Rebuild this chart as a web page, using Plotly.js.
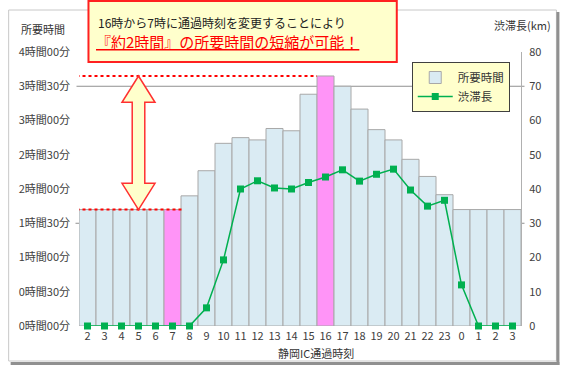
<!DOCTYPE html>
<html><head><meta charset="utf-8">
<script src="https://cdn.plot.ly/plotly-3.0.1.min.js"></script>
<style>html,body{margin:0;padding:0;background:#fff}#c{width:565px;height:372px}</style>
</head><body><div id="c"></div>
<script>
// ---- data ----
const hours = ["2","3","4","5","6","7","8","9","10","11","12","13","14","15","16","17","18","19","20","21","22","23","0","1","2","3"];
const travelMinutes = [102,102,102,102,102,102,114,136,160,165,163,173,171,203,219,210,190,172,163,146,131,115,102,102,102,102];
const jamKm = [0,0,0,0,0,0,0,5.3,19.3,40,42.4,40.3,40,41.9,43.5,45.6,42.3,44.3,45.8,39.7,35,36.7,12,0,0,0];
const highlightHours = [5, 14]; // indices of 7時 and 16時
const yTickVals = [0,30,60,90,120,150,180,210,240];
const yTickText = ["0時間00分","0時間30分","1時間00分","1時間30分","2時間00分","2時間30分","3時間00分","3時間30分","4時間00分"];
const y2TickVals = [0,10,20,30,40,50,60,70,80];

// ---- layout helpers (pixel -> paper) ----
const L = 78.5, R = 521.5, T = 52, B = 326;
const px = v => (v - L) / (R - L);
const py = v => (B - v) / (B - T);

const idx = hours.map((h, i) => i);
const barColors = idx.map(i => highlightHours.includes(i) ? '#FF94F7' : '#DAEBF3');

const font = "'Noto Sans CJK JP', 'Noto Sans', sans-serif";
const tickFont = {family: font, size: 11, color: '#404040'};

const lowVal = travelMinutes[highlightHours[0]];
const highVal = travelMinutes[highlightHours[1]];
const ax = 3, hw = 0.97, sw = 0.37, hh = 23;
const arrowPath = `M ${ax},${highVal} L ${ax+hw},${highVal-hh} L ${ax+sw},${highVal-hh} L ${ax+sw},${lowVal+hh} L ${ax+hw},${lowVal+hh} L ${ax},${lowVal} L ${ax-hw},${lowVal+hh} L ${ax-sw},${lowVal+hh} L ${ax-sw},${highVal-hh} L ${ax-hw},${highVal-hh} Z`;

const traces = [
  {type: 'bar', x: idx, y: travelMinutes, name: '所要時間', width: 1,
   marker: {color: barColors, line: {color: '#A8A8A8', width: 1}}, hoverinfo: 'skip'},
  {type: 'scatter', mode: 'lines+markers', x: idx, y: jamKm, yaxis: 'y2', name: '渋滞長', cliponaxis: false,
   line: {color: '#00B050', width: 1.5}, marker: {symbol: 'square', size: 7, color: '#00B050'}, hoverinfo: 'skip'}
];

const layout = {
  width: 565, height: 372,
  margin: {l: L, r: 565 - R, t: T, b: 372 - B, pad: 0},
  paper_bgcolor: '#fff', plot_bgcolor: 'rgba(0,0,0,0)',
  font: {family: font, color: '#404040'},
  bargap: 0,
  showlegend: true,
  legend: {x: px(412), y: py(62), xanchor: 'left', yanchor: 'top',
    bgcolor: '#FFFFCC', bordercolor: '#404040', borderwidth: 1, itemwidth: 35,
    font: {family: font, size: 11.5, color: '#333'}, tracegroupgap: 5, traceorder: 'grouped'},
  xaxis: {range: [-0.5, 25.5], tickvals: idx, ticktext: hours, showgrid: false, zeroline: false,
    showline: false, ticks: '', tickfont: tickFont, ticklabelstandoff: 2, fixedrange: true},
  yaxis: {range: [0, 240], tickvals: yTickVals, ticktext: yTickText, showgrid: false, zeroline: false,
    showline: false, ticks: '', tickfont: tickFont, ticklabelstandoff: 8, fixedrange: true},
  yaxis2: {range: [0, 80], tickvals: y2TickVals, overlaying: 'y', side: 'right', showgrid: false,
    zeroline: false, showline: true, linecolor: '#B0B0B0', linewidth: 1, ticks: '',
    tickfont: tickFont, ticklabelstandoff: 5, fixedrange: true},
  shapes: [
    // outer frame + shadow
    {type: 'rect', xref: 'paper', yref: 'paper', x0: px(8), x1: px(557), y0: py(361), y1: py(10),
     line: {color: '#C8C8C8', width: 1}, layer: 'below'},
    {type: 'line', xref: 'paper', yref: 'paper', x0: px(10), x1: px(560), y0: py(363.5), y1: py(363.5),
     line: {color: '#909090', width: 3}, layer: 'below'},
    {type: 'line', xref: 'paper', yref: 'paper', x0: px(558.5), x1: px(558.5), y0: py(365), y1: py(12),
     line: {color: '#909090', width: 3}, layer: 'below'},
    // reference line at 3h30
    {type: 'line', xref: 'paper', yref: 'y', x0: px(76), x1: px(525), y0: 210, y1: 210,
     line: {color: '#909090', width: 1}, layer: 'below'},
    // small tick marks at 1h30 / 30km
    {type: 'line', xref: 'paper', yref: 'y', x0: px(75), x1: px(79), y0: 90, y1: 90,
     line: {color: '#909090', width: 1}, layer: 'below'},
    {type: 'line', xref: 'paper', yref: 'y', x0: px(521), x1: px(525), y0: 90, y1: 90,
     line: {color: '#909090', width: 1}, layer: 'below'},
    // red dotted lines
    {type: 'line', xref: 'x', yref: 'y', x0: -1.0, x1: 13.5, y0: highVal, y1: highVal,
     line: {color: '#FF0000', width: 2, dash: 'dot'}, layer: 'above'},
    {type: 'line', xref: 'x', yref: 'y', x0: -1.0, x1: 5.6, y0: lowVal, y1: lowVal,
     line: {color: '#FF0000', width: 2, dash: 'dot'}, layer: 'above'},
    // double arrow
    {type: 'path', xref: 'x', yref: 'y', path: arrowPath, fillcolor: '#FFFFCC',
     line: {color: '#FF3030', width: 1.5}, layer: 'above'},
    // legend shadow
    {type: 'rect', xref: 'paper', yref: 'paper', x0: px(414), x1: px(509), y0: py(110), y1: py(64),
     fillcolor: '#404040', line: {width: 0}, layer: 'above'},
    // callout box
    {type: 'rect', xref: 'paper', yref: 'paper', x0: px(88), x1: px(397), y0: py(62), y1: py(1),
     fillcolor: '#FFFFCC', line: {color: '#FF2020', width: 2}, layer: 'above'}
  ],
  annotations: [
    {xref: 'paper', yref: 'paper', x: px(96), y: py(23), xanchor: 'left', yanchor: 'middle', showarrow: false,
     text: '16時から7時に通過時刻を変更することにより', font: {family: font, size: 12, color: '#222'}},
    {xref: 'paper', yref: 'paper', x: px(94), y: py(42), xanchor: 'left', yanchor: 'middle', showarrow: false,
     text: '<u>『約2時間』の所要時間の短縮が可能！</u>', font: {family: font, size: 15, color: '#FF0000'}},
    {xref: 'paper', yref: 'paper', x: px(42), y: py(29), xanchor: 'center', yanchor: 'middle', showarrow: false,
     text: '所要時間', font: {family: font, size: 11, color: '#333'}},
    {xref: 'paper', yref: 'paper', x: px(523), y: py(25), xanchor: 'center', yanchor: 'middle', showarrow: false,
     text: '渋滞長(km)', font: {family: font, size: 11, color: '#333'}},
    {xref: 'paper', yref: 'paper', x: px(316), y: py(353), xanchor: 'center', yanchor: 'middle', showarrow: false,
     text: '静岡IC通過時刻', font: {family: font, size: 11, color: '#333'}}
  ]
};

Plotly.newPlot('c', traces, layout, {staticPlot: true, displayModeBar: false});
</script></body></html>
